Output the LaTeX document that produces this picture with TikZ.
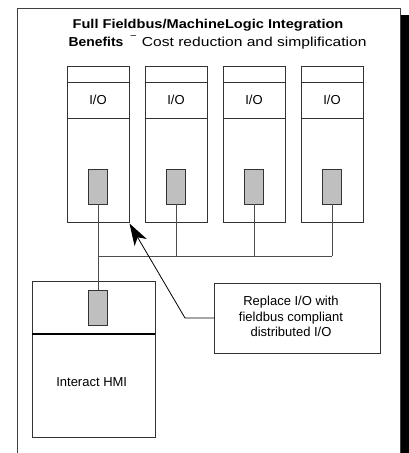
\documentclass[tikz,border=0pt]{standalone}
\usepackage{fontspec}
\setmainfont{Liberation Sans}
\usetikzlibrary{arrows.meta}
\begin{document}
\begin{tikzpicture}[x=1pt,y=-1pt,
  boxline/.style={draw=black!80,line width=0.9pt},
  iobox/.style={boxline,fill=white,minimum width=62pt,minimum height=156pt,inner sep=0pt,anchor=north west},
  chip/.style={draw=black!80,line width=0.9pt,fill=black!25,minimum width=19pt,minimum height=35pt,inner sep=0pt},
  wire/.style={draw=black!70,line width=0.9pt},
  lbl/.style={font=\fontsize{13}{15.5}\selectfont,align=center,inner sep=0pt},
  callout/.style={boxline,fill=white,minimum width=166pt,minimum height=70pt,inner sep=0pt,anchor=north west}]
\useasboundingbox (0,0) rectangle (409,453);
% frame and shadow bar
\fill[black] (401,15) rectangle (409,453);
\draw[black!75,line width=0.9pt] (17,453) -- (17,8) -- (400,8) -- (400,453);
% title
\node[inner sep=0pt,anchor=base,font=\fontsize{12.8}{14}\selectfont\bfseries] (t1) at (208,28.3) {\scalebox{1.14}[1]{Full Fieldbus/MachineLogic Integration}};
\node[inner sep=0pt,anchor=base west,font=\fontsize{13}{14}\selectfont\bfseries] (t2a) at (68.3,46) {\scalebox{1.07}[1]{Benefits}};
\node[inner sep=0pt,font=\fontsize{10}{11}\selectfont] (t2b) at (133.3,37.5) {–};
\node[inner sep=0pt,anchor=base west,font=\fontsize{13}{14}\selectfont] (t2c) at (141.7,46) {\scalebox{1.2}[1]{Cost reduction and simplification}};
% I/O racks
\foreach \i/\x/\cx in {1/67/98,2/145/176,3/223/254,4/301/332}{
  \node[iobox] (r\i) at (\x,66) {};
  \draw[boxline] (\x,82) -- ++(62,0) (\x,118) -- ++(62,0);
  \node[lbl] (io\i) at (\cx,100) {I/O};
  \node[chip] (c\i) at (\cx,186.5) {};
}
% bus
\coordinate (b1) at (98.5,256);
\coordinate (b4) at (331.5,256);
\draw[wire] (c2.south) -- (c2.south |- b1);
\draw[wire] (c3.south) -- (c3.south |- b1);
\draw[wire] (c4.south) -- (c4.south |- b1);
\draw[wire] (b1) -- (b4);
% HMI
\node[boxline,fill=white,minimum width=123pt,minimum height=156pt,inner sep=0pt,anchor=north west] (hmi) at (32,281) {};
\draw[black,line width=1.6pt] (32,334) -- (155,334);
\node[chip] (hc) at (98,307.5) {};
\node[lbl] (hl) at (91.7,382.5) {Interact HMI};
\draw[wire] (c1.south) -- (hc.north);
% callout
\node[callout] (co) at (214,283) {};
\node[lbl] (cot) at (291,316.5) {Replace I/O with\\fieldbus compliant\\distributed I/O};
\coordinate (bend) at (185,318);
\coordinate (tip) at (129.5,223.5);
\draw[black,line width=0.8pt,-{Stealth[length=22pt,width=14pt,inset=6pt]}] (co.west |- bend) -- (bend) -- (tip);
\end{tikzpicture}
\end{document}
